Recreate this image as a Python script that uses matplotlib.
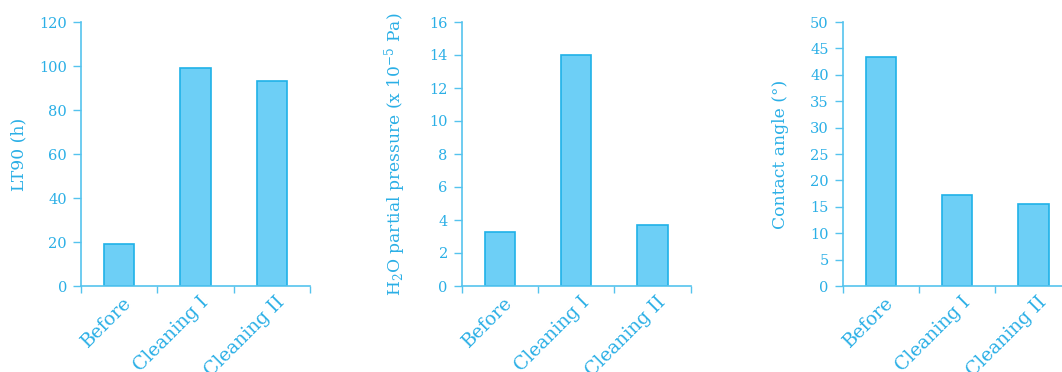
import matplotlib.pyplot as plt
from matplotlib.transforms import ScaledTranslation

# Data
categories = ['Before', 'Cleaning I', 'Cleaning II']
lt90 = [19, 99, 93]
h2o_pressure = [3.3, 14, 3.7]
contact_angle = [43.4, 17.2, 15.5]

ylabels = ['LT90 (h)',
           'H$_2$O partial pressure (x 10$^{-5}$ Pa)',
           'Contact angle (°)']
ylims = [(0, 120), (0, 16), (0, 50)]
ysteps = [20, 2, 5]

text_col = '#2aafe6'
axis_col = '#55c3ee'
bar_face = '#6dcff6'
bar_edge = '#1fb1e8'

plt.rcParams['font.family'] = 'DejaVu Serif'
plt.rcParams['mathtext.fontset'] = 'dejavuserif'

fig = plt.figure(figsize=(10.62, 3.72), dpi=100)
lefts = [81 / 1062, 461.7 / 1062, 842.7 / 1062]
width = 229 / 1062
bottom = 1 - 286 / 372
height = 264 / 372

for i, vals in enumerate([lt90, h2o_pressure, contact_angle]):
    ax = fig.add_axes([lefts[i], bottom, width, height])
    x = list(range(len(categories)))
    ax.bar(x, vals, width=0.4, color=bar_face, edgecolor=bar_edge, linewidth=1.2, zorder=2)

    ax.set_xlim(-0.5, 2.5)
    ax.set_ylim(*ylims[i])
    lo, hi = ylims[i]
    ax.set_yticks([lo + k * ysteps[i] for k in range(int((hi - lo) / ysteps[i]) + 1)])

    # category boundaries as major ticks, labels on minor ticks
    ax.set_xticks([-0.5, 0.5, 1.5, 2.5])
    ax.set_xticklabels([])
    ax.set_xticks(x, minor=True)
    ax.set_xticklabels(categories, minor=True, rotation=45, ha='right',
                       va='center', rotation_mode='anchor', fontsize=13.5, color=text_col)
    ax.tick_params(axis='x', which='minor', length=0, pad=10)
    ax.tick_params(axis='x', which='major', direction='out', length=5, width=1, color=axis_col)
    ax.tick_params(axis='y', direction='out', length=6, width=1, color=axis_col,
                   labelcolor=text_col, labelsize=10.5, pad=4)
    shift = ScaledTranslation(10 / 100, 0, fig.dpi_scale_trans)
    for lab in ax.get_xticklabels(minor=True):
        lab.set_transform(lab.get_transform() + shift)

    for s in ['top', 'right']:
        ax.spines[s].set_visible(False)
    for s in ['left', 'bottom']:
        ax.spines[s].set_color(axis_col)
        ax.spines[s].set_linewidth(1.2)

    ax.set_ylabel(ylabels[i], fontsize=12.3, color=text_col)
    ax.yaxis.set_label_coords(-0.235, 0.5)

fig.savefig('out.png', dpi=100)
